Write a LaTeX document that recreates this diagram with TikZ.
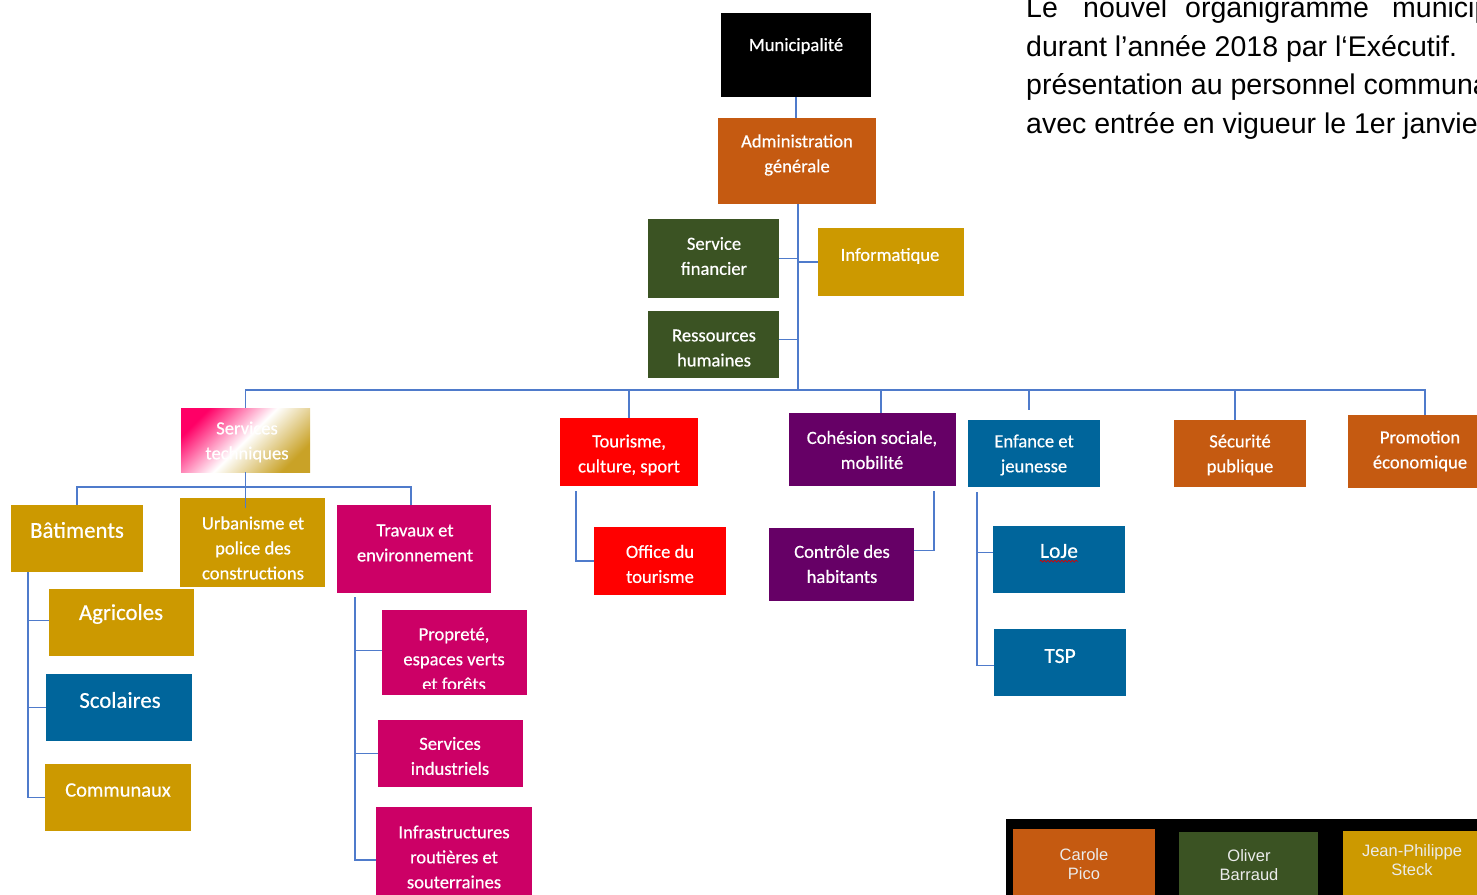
\documentclass[tikz,border=0pt]{standalone}
\usepackage{fontspec}
\setmainfont{Carlito}[FakeBold=0.5]
\newfontfamily\arialf{Liberation Sans}
\usetikzlibrary{calc,decorations.pathmorphing}
\definecolor{cOrange}{HTML}{C55A11}
\definecolor{cGreen}{HTML}{3B5323}
\definecolor{cGold}{HTML}{CC9900}
\definecolor{cRed}{HTML}{FF0000}
\definecolor{cPurple}{HTML}{660066}
\definecolor{cBlue}{HTML}{00659B}
\definecolor{cPink}{HTML}{CC0066}
\definecolor{cLine}{HTML}{4F7BCB}
\definecolor{stPink}{HTML}{FF0066}
\definecolor{stGold}{HTML}{C9A227}
\newcommand\obox[6]{%
  \node[box,fill=#6,minimum width={#4-#2},minimum height={#5-#3}] (#1) at ({(#2+#4)/2},{(#3+#5)/2}) {};}
\tikzset{
  box/.style={draw=none,inner sep=0pt,outer sep=0pt},
  conn/.style={draw=cLine,line width=1.4pt},
  lbl/.style={text=white,align=center,inner sep=0pt,font=\fontsize{18.6}{25}\selectfont},
  big/.style={text=white,align=center,inner sep=0pt,font=\fontsize{22.8}{26}\selectfont},
  nm/.style={text=white!92!black,align=center,inner sep=0pt,font=\arialf\fontsize{16.5}{19}\selectfont},
  para/.style={anchor=base west,inner sep=0pt,font=\arialf\fontsize{28.5}{38}\selectfont}
}
\begin{document}
\begin{tikzpicture}[x=1pt,y=-1pt]
\useasboundingbox (0,0) rectangle (1477,894);
\clip (0,0) rectangle (1477,894);
% paragraph
\node[para] (p1a) at (1026,17.5) {Le};
\node[para] (p1b) at (1083,17.5) {nouvel};
\node[para] (p1c) at (1185,17.5) {organigramme};
\node[para] (p1d) at (1392,17.5) {municipal};
\node[para] (p2) at (1026,56) {durant l’année 2018 par l‘Exécutif.};
\node[para] (p3) at (1026,94.5) {présentation au personnel communal};
\node[para] (p4) at (1026,133) {avec entrée en vigueur le 1er janvier};
% boxes
\obox{mun}{721}{13}{871}{97}{black}
\obox{adm}{718}{118}{876}{204}{cOrange}
\obox{sf}{648}{219}{779}{298}{cGreen}
\obox{inf}{818}{228}{964}{296}{cGold}
\obox{rh}{648}{311}{779}{378}{cGreen}
\node[box,top color=stPink,bottom color=stGold,middle color=white,shading angle=45,minimum width=129,minimum height=64] (st) at (245.5,440) {};
\obox{tour}{560}{418}{698}{486}{cRed}
\obox{coh}{789}{413}{956}{486}{cPurple}
\obox{enf}{968}{420}{1100}{487}{cBlue}
\obox{sec}{1174}{420}{1306}{487}{cOrange}
\obox{promo}{1348}{415}{1502}{488}{cOrange}
\obox{bat}{11}{505}{143}{572}{cGold}
\obox{urb}{180}{498}{325}{587}{cGold}
\obox{trav}{337}{505}{491}{593}{cPink}
\obox{agr}{49}{589}{194}{656}{cGold}
\obox{sco}{46}{674}{192}{741}{cBlue}
\obox{com}{45}{764}{191}{831}{cGold}
\obox{prop}{382}{610}{527}{695}{cPink}
\obox{ind}{378}{720}{523}{787}{cPink}
\obox{infra}{376}{807}{532}{905}{cPink}
\obox{off}{594}{527}{726}{595}{cRed}
\obox{ctrl}{769}{528}{914}{601}{cPurple}
\obox{loje}{993}{526}{1125}{593}{cBlue}
\obox{tsp}{994}{629}{1126}{696}{cBlue}
\obox{panel}{1006}{819}{1500}{910}{black}
\obox{cp}{1013}{829}{1155}{910}{cOrange}
\obox{ob}{1179}{832}{1318}{910}{cGreen}
\obox{jps}{1343}{831}{1490}{910}{cGold}
% labels
\node[lbl] (mun-t) at (796,46) {Municipalité};
\node[lbl] (adm-t) at (797,155) {Administration\\générale};
\node[lbl] (sf-t) at (714,256) {Service\\financier};
\node[lbl] (inf-t) at (890,256) {Informatique};
\node[lbl] (rh-t) at (714,348) {Ressources\\humaines};
\node[lbl] (st-t) at (247,442) {Services\\techniques};
\node[lbl] (tour-t) at (629,455) {Tourisme,\\culture, sport};
\node[lbl] (coh-t) at (872,450) {Cohésion sociale,\\mobilité};
\node[lbl] (enf-t) at (1034,455) {Enfance et\\jeunesse};
\node[lbl] (sec-t) at (1240,455) {Sécurité\\publique};
\node[lbl] (promo-t) at (1420,451) {Promotion\\économique};
\node[big] (bat-t) at (77,530) {Bâtiments};
\node[lbl] (urb-t) at (253,548) {Urbanisme et\\police des\\constructions};
\node[lbl] (trav-t) at (415,543) {Travaux et\\environnement};
\node[big] (agr-t) at (121,614) {Agricoles};
\node[big] (sco-t) at (120,700) {Scolaires};
\node[big,font=\fontsize{20.5}{24}\selectfont] (com-t) at (118,790) {Communaux};
\begin{scope}
\clip (382,610) rectangle (527,688);
\node[lbl] (prop-t) at (454,659) {Propreté,\\espaces verts\\et forêts};
\end{scope}
\node[lbl] (ind-t) at (450,756) {Services\\industriels};
\node[lbl] (infra-t) at (454,857) {Infrastructures\\routières et\\souterraines};
\node[lbl] (off-t) at (660,564) {Office du\\tourisme};
\node[lbl] (ctrl-t) at (842,564) {Contrôle des\\habitants};
\node[big,font=\fontsize{21.5}{25}\selectfont] (loje-t) at (1059,551) {LoJe};
\draw[red!85!black,line width=0.7pt,decorate,decoration={snake,amplitude=0.9pt,segment length=3.5pt}] ($(loje-t.south west)+(0,3)$) -- ($(loje-t.south east)+(0,3)$);
\node[big,font=\fontsize{21.5}{25}\selectfont] (tsp-t) at (1060,656) {TSP};
\node[nm] (cp-t) at (1084,864) {Carole\\Pico};
\node[nm] (ob-t) at (1249,865) {Oliver\\Barraud};
\node[nm] (jps-t) at (1412,860) {Jean-Philippe\\Steck};
% connectors
\coordinate (bus) at (798,390);
\draw[conn] (mun.south) -- (mun.south |- adm.north);
\draw[conn] (adm.south -| bus) -- (bus);
\draw[conn] (sf.east) -- (sf.east -| bus);
\draw[conn] (inf.west) -- (inf.west -| bus);
\draw[conn] ([yshift=5pt]rh.east) -- ([yshift=5pt]rh.east -| bus);
\draw[conn] (st.north) |- (bus) -| (promo.north);
\draw[conn] (tour.north) -- (tour.north |- bus);
\coordinate (dcoh) at (881,390);
\draw[conn] (dcoh) -- (dcoh |- coh.north);
\coordinate (denf) at (1029,390);
\draw[conn] (denf) -- ($(denf |- enf.north)+(0,-10)$);
\coordinate (dsec) at (1235,390);
\draw[conn] (dsec) -- (dsec |- sec.north);
% services techniques
\coordinate (stbus) at (246,487);
\draw[conn] (st.south) -- ($(urb.north -| st.south)+(0,10)$);
\draw[conn] (bat.north) |- (stbus) -| ($(trav.north)+(-3,0)$);
\coordinate (batv) at (28,572);
\draw[conn] (batv) |- ([yshift=2pt]agr.west);
\draw[conn] (batv) |- (sco.west);
\draw[conn] (batv) |- (com.west);
\coordinate (travv) at (355,597);
\draw[conn] (travv) |- ([yshift=2pt]prop.west);
\draw[conn] (travv) |- (ind.west);
\draw[conn] (travv) |- ([yshift=-4pt]infra.west);
\coordinate (tourv) at (576,491);
\draw[conn] (tourv) |- (off.west);
\coordinate (cohv) at (934,491);
\draw[conn] (cohv) |- ([yshift=14pt]ctrl.east);
\coordinate (enfv) at (977,492);
\draw[conn] (enfv) |- ([yshift=7pt]loje.west);
\draw[conn] (enfv) |- ([yshift=-3pt]tsp.west);
\end{tikzpicture}
\end{document}
